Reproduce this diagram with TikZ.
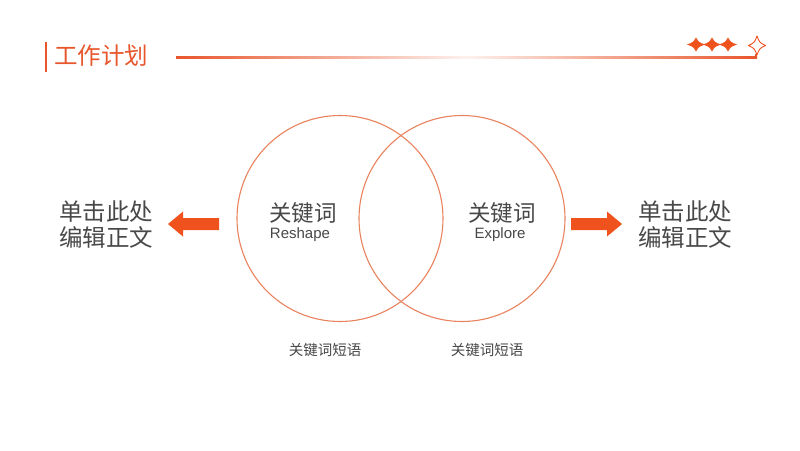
\documentclass[tikz,border=0pt]{standalone}
\usepackage{fontspec}
\setmainfont{Liberation Sans}
\newfontfamily\cjk{Noto Sans CJK SC}
\definecolor{orng}{HTML}{F0521E}
\definecolor{ttl}{HTML}{E8562C}
\definecolor{circ}{HTML}{E9835E}
\definecolor{txt}{HTML}{484848}
\newcommand{\fourstar}[5]{%
  % center x, y, half width, half height, control factor
  (#1,#2-#4) .. controls (#1+#5*#3,#2-#5*#4) .. (#1+#3,#2)
  .. controls (#1+#5*#3,#2+#5*#4) .. (#1,#2+#4)
  .. controls (#1-#5*#3,#2+#5*#4) .. (#1-#3,#2)
  .. controls (#1-#5*#3,#2-#5*#4) .. cycle}
\begin{document}
\begin{tikzpicture}[x=1pt,y=-1pt,
  cn/.style={font=\cjk, text=txt, inner sep=0pt},
  big/.style={cn, font=\cjk\fontsize{23.5}{26}\selectfont, align=left},
  kw/.style={cn, font=\cjk\fontsize{22.5}{26}\selectfont},
  en/.style={inner sep=0pt, text=txt, font=\fontsize{15}{17}\selectfont},
  small/.style={cn, font=\cjk\fontsize{14.5}{16}\selectfont},
  ring/.style={draw=circ, line width=1.1pt, circle, minimum size=206pt, inner sep=0pt}
]
\useasboundingbox[fill=white] (0,0) rectangle (800,450);

% header
\fill[ttl] (44.5,42) rectangle (46.5,72);
\node[cn, text=ttl, font=\cjk\fontsize{23.5}{26}\selectfont, anchor=west] (title) at (54,56) {工作计划};
\shade[left color=ttl, right color=ttl, middle color=ttl!8] (176,56.6) rectangle (757,58.2);
\fill[ttl] (755.4,54) rectangle (757,58.2);
\fill[orng] \fourstar{696}{44.5}{9}{7}{0.32};
\fill[orng] \fourstar{712}{44.5}{9}{7}{0.32};
\fill[orng] \fourstar{728}{44.5}{9}{7}{0.32};
\draw[orng, line width=0.9pt, line join=round] \fourstar{757}{45.5}{8.5}{9.5}{0.3};

% circles
\node[ring] (c1) at (340,218.5) {};
\node[ring] (c2) at (462,218.5) {};

\node[kw] (k1) at (303,213) {关键词};
\node[en] (e1) at (300,234.5) {Reshape};
\node[kw] (k2) at (502,213) {关键词};
\node[en] (e2) at (500,234.5) {Explore};

\node[small] (s1) at (325,350) {关键词短语};
\node[small] (s2) at (487,350) {关键词短语};

% side texts
\node[big, anchor=west] (lt) at (59,225) {单击此处\\编辑正文};
\node[big, anchor=west] (rt) at (638,225) {单击此处\\编辑正文};

% arrows
\fill[orng] (168,224) -- (183,211.5) -- (183,218) -- (219,218) -- (219,230) -- (183,230) -- (183,236.5) -- cycle;
\fill[orng] (622,224) -- (607,211.5) -- (607,218) -- (571,218) -- (571,230) -- (607,230) -- (607,236.5) -- cycle;
\end{tikzpicture}
\end{document}
